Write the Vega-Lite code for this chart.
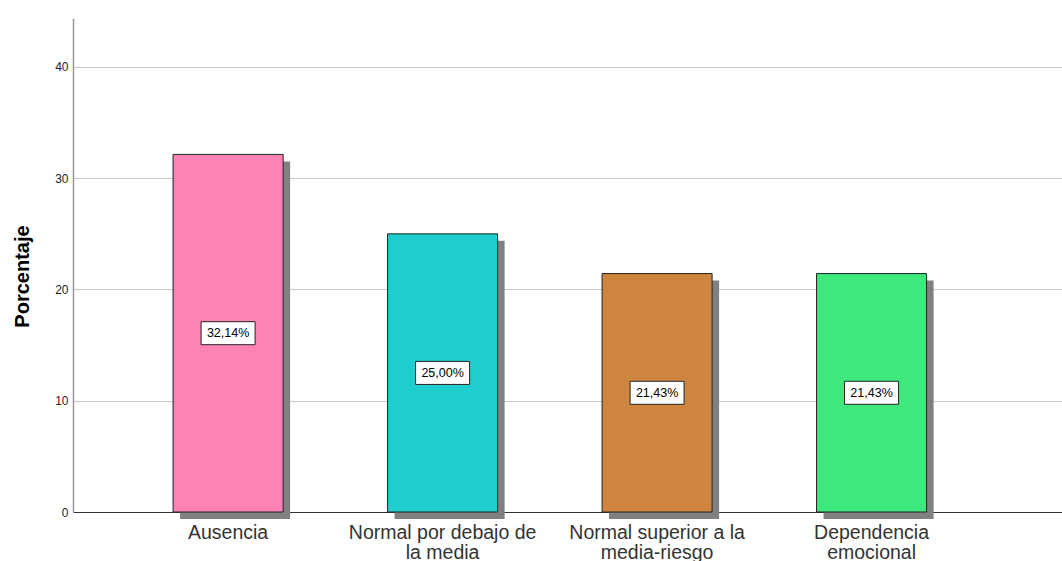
{
  "$schema": "https://vega.github.io/schema/vega-lite/v6.json",
  "width": 989,
  "height": 494,
  "autosize": "none",
  "padding": {"left": 73, "top": 18, "right": 0, "bottom": 49},
  "background": "white",
  "config": {"view": {"stroke": null}, "font": "Liberation Sans"},
  "data": {"values": [
    {"cat": "Ausencia", "pct": 32.14, "label": "32,14%", "color": "#FF82B4"},
    {"cat": "Normal por debajo de la media", "pct": 25.00, "label": "25,00%", "color": "#1ECDCD"},
    {"cat": "Normal superior a la media-riesgo", "pct": 21.43, "label": "21,43%", "color": "#CD853F"},
    {"cat": "Dependencia emocional", "pct": 21.43, "label": "21,43%", "color": "#3FE87D"}
  ]},
  "encoding": {
    "x": {
      "field": "cat", "type": "nominal", "sort": null, "title": null,
      "scale": {"paddingInner": 0.487, "paddingOuter": 0.549, "align": 0.425},
      "axis": {
        "labelAngle": 0, "ticks": false, "domainColor": "#333333", "domainWidth": 1,
        "labelFontSize": 19.5, "labelColor": "#333333", "labelPadding": 11, "labelLineHeight": 20,
        "labelLimit": 400,
        "labelExpr": "datum.value == 'Normal por debajo de la media' ? ['Normal por debajo de', 'la media'] : datum.value == 'Normal superior a la media-riesgo' ? ['Normal superior a la', 'media-riesgo'] : datum.value == 'Dependencia emocional' ? ['Dependencia', 'emocional'] : datum.value"
      }
    }
  },
  "layer": [
    {
      "mark": {"type": "bar", "color": "#808080", "xOffset": 7, "yOffset": 7},
      "encoding": {
        "y": {
          "field": "pct", "type": "quantitative",
          "scale": {"domain": [0, 44.4], "nice": false},
          "axis": {
            "values": [0, 10, 20, 30, 40], "ticks": false, "grid": true,
            "gridColor": "#C8C8C8", "gridWidth": 1.2, "domainColor": "#999999", "domainWidth": 1.5,
            "labelFontSize": 12, "labelColor": "#222222", "labelPadding": 5,
            "title": "Porcentaje", "titleFontSize": 20, "titleFontWeight": "bold", "titleColor": "#000000",
            "titleX": -51, "titleY": 258, "titleBaseline": "middle", "titleAngle": -90
          }
        }
      }
    },
    {
      "mark": {"type": "bar", "stroke": "#222222", "strokeWidth": 1},
      "encoding": {
        "y": {"field": "pct", "type": "quantitative"},
        "fill": {"field": "color", "type": "nominal", "scale": null, "legend": null}
      }
    },
    {
      "transform": [{"calculate": "datum.pct / 2", "as": "mid"}],
      "mark": {"type": "point", "shape": "M-1,-0.426L1,-0.426L1,0.426L-1,0.426Z", "size": 2916, "filled": true, "fill": "white", "stroke": "#222222", "strokeWidth": 1, "opacity": 1},
      "encoding": {"y": {"field": "mid", "type": "quantitative"}}
    },
    {
      "transform": [{"calculate": "datum.pct / 2", "as": "mid"}],
      "mark": {"type": "text", "fontSize": 12.5, "color": "#000000"},
      "encoding": {"y": {"field": "mid", "type": "quantitative"}, "text": {"field": "label"}}
    }
  ]
}
